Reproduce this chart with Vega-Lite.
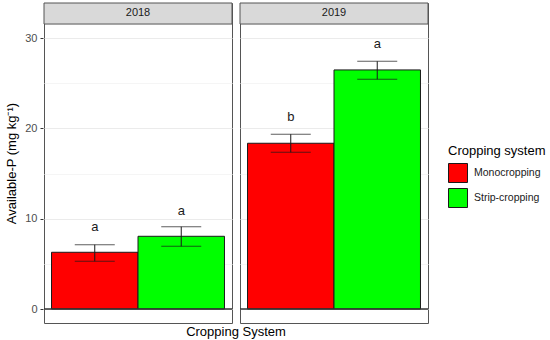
{
  "$schema": "https://vega.github.io/schema/vega-lite/v6.json",
  "padding": {"left": 5, "top": 2, "right": 5, "bottom": 4},
  "background": "white",
  "data": {
    "values": [
      {"year": "2018", "system": "Monocropping", "mean": 6.28, "lo": 5.28, "hi": 7.12, "letter": "a", "ly": 9.1},
      {"year": "2018", "system": "Strip-cropping", "mean": 8.05, "lo": 6.94, "hi": 9.11, "letter": "a", "ly": 10.85},
      {"year": "2019", "system": "Monocropping", "mean": 18.35, "lo": 17.35, "hi": 19.35, "letter": "b", "ly": 21.26},
      {"year": "2019", "system": "Strip-cropping", "mean": 26.47, "lo": 25.44, "hi": 27.43, "letter": "a", "ly": 29.3}
    ]
  },
  "facet": {
    "column": {
      "field": "year",
      "type": "nominal",
      "title": "Cropping System",
      "header": {
        "labels": false,
        "titleOrient": "bottom",
        "titleFontSize": 13,
        "titleFont": "Liberation Sans",
        "titleFontWeight": "normal",
        "titleColor": "#000000",
        "titleBaseline": "middle",
        "titlePadding": -2
      }
    }
  },
  "spacing": 6,
  "spec": {
    "width": 188,
    "height": 320,
    "encoding": {
      "x": {
        "field": "system",
        "type": "nominal",
        "scale": {"paddingInner": 0, "paddingOuter": 0.087},
        "axis": null
      }
    },
    "layer": [
      {
        "mark": {"type": "bar", "stroke": "#1a1a1a", "strokeWidth": 1},
        "encoding": {
          "y": {
            "field": "mean",
            "type": "quantitative",
            "scale": {"domain": [-1.55, 33.88], "nice": false, "zero": false},
            "axis": {
              "title": "Available-P (mg kg⁻¹)",
              "titleFont": "Liberation Sans",
              "titleFontSize": 13,
              "titleFontWeight": "normal",
              "titleColor": "#000000",
              "titlePadding": 6,
              "values": [0, 5, 10, 15, 20, 25, 30],
              "labelExpr": "datum.value % 10 === 0 ? datum.label : ''",
              "labelFont": "Liberation Sans",
              "labelFontSize": 11,
              "labelColor": "#4d4d4d",
              "labelPadding": 3,
              "domain": false,
              "tickSize": 3,
              "tickColor": {"condition": {"test": "datum.value % 10 === 0", "value": "#333333"}, "value": "transparent"},
              "grid": true,
              "gridColor": {"condition": {"test": "datum.value % 10 === 0", "value": "#ebebeb"}, "value": "#f5f5f5"},
              "gridWidth": 1
            }
          },
          "y2": {"datum": 0},
          "fill": {
            "field": "system",
            "type": "nominal",
            "scale": {"domain": ["Monocropping", "Strip-cropping"], "range": ["#FF0000", "#00FF00"]},
            "legend": {
              "title": "Cropping system",
              "orient": "none",
              "legendX": 404,
              "legendY": 142,
              "titleFont": "Liberation Sans",
              "titleFontSize": 13,
              "titleFontWeight": "normal",
              "titleColor": "#000000",
              "titlePadding": 5,
              "labelFont": "Liberation Sans",
              "labelFontSize": 10.5,
              "labelColor": "#1a1a1a",
              "labelOffset": 6,
              "symbolType": "square",
              "symbolSize": 361,
              "symbolStrokeColor": "#1a1a1a",
              "symbolStrokeWidth": 1,
              "rowPadding": 1
            }
          }
        }
      },
      {
        "mark": {"type": "rule", "color": "#1a1a1a", "strokeWidth": 1},
        "encoding": {"y": {"field": "lo", "type": "quantitative"}, "y2": {"field": "hi"}}
      },
      {
        "mark": {"type": "tick", "color": "#1a1a1a", "thickness": 1, "size": 40},
        "encoding": {"y": {"field": "lo", "type": "quantitative"}}
      },
      {
        "mark": {"type": "tick", "color": "#1a1a1a", "thickness": 1, "size": 40},
        "encoding": {"y": {"field": "hi", "type": "quantitative"}}
      },
      {
        "mark": {"type": "text", "font": "Liberation Sans", "fontSize": 13, "color": "#1a1a1a", "baseline": "middle"},
        "encoding": {"y": {"field": "ly", "type": "quantitative"}, "text": {"field": "letter"}}
      },
      {
        "mark": {"type": "rule", "color": "#333333", "strokeWidth": 1},
        "encoding": {"y": {"datum": 0}, "x": null}
      },
      {
        "transform": [{"filter": "datum.system === 'Monocropping'"}],
        "mark": {"type": "rect", "fill": "#d9d9d9", "stroke": "#555555", "strokeWidth": 1},
        "encoding": {"y": {"datum": 31.55}, "y2": {"datum": 33.88}, "x": null}
      },
      {
        "transform": [{"filter": "datum.system === 'Monocropping'"}],
        "mark": {"type": "text", "font": "Liberation Sans", "fontSize": 11, "color": "#1a1a1a", "baseline": "middle"},
        "encoding": {"y": {"datum": 32.72}, "x": null, "text": {"field": "year"}}
      }
    ]
  },
  "config": {
    "view": {"stroke": "#555555", "strokeWidth": 1},
    "font": "Liberation Sans"
  }
}
